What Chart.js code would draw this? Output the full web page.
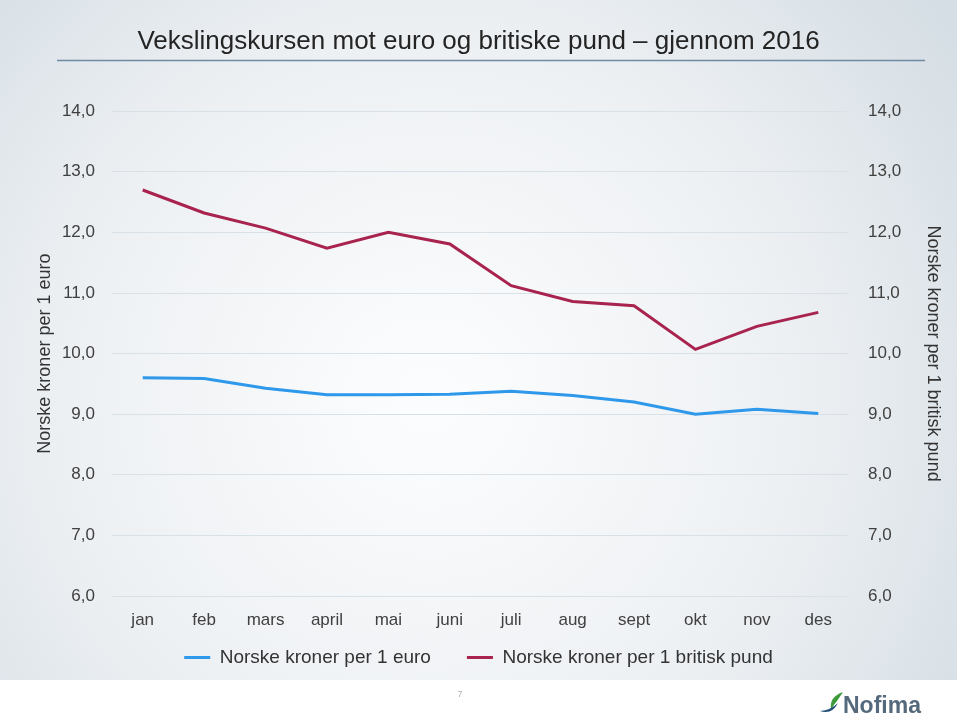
<!DOCTYPE html>
<html>
<head>
<meta charset="utf-8">
<script src="https://cdn.jsdelivr.net/npm/chart.js@4"></script>
<style>
  html, body { margin: 0; padding: 0; background: #ffffff; }
  #wrap { width: 957px; height: 714px; }
</style>
</head>
<body>
<div id="wrap"><canvas id="kursChart" width="957" height="714"></canvas></div>
<script>
const months = ["jan", "feb", "mars", "april", "mai", "juni", "juli", "aug", "sept", "okt", "nov", "des"];
const euroRates = [9.60, 9.59, 9.43, 9.32, 9.32, 9.33, 9.38, 9.31, 9.20, 9.00, 9.08, 9.01];
const poundRates = [12.70, 12.32, 12.07, 11.74, 12.00, 11.81, 11.12, 10.86, 10.79, 10.07, 10.45, 10.68];
const axisMin = 6;
const axisMax = 14;

const FONT = "'Liberation Sans', Arial, sans-serif";
const fmt = (v) => v.toFixed(1).replace(".", ",");

// slide background, title rule, page number and logo
const slidePlugin = {
  id: "slide",
  afterLayout(chart) {
    // pull the legend up a bit so its items can be spread wider
    const lg = chart.legend;
    lg.top -= 20;
    lg.bottom -= 20;
  },
  beforeDraw(chart) {
    const ctx = chart.ctx;
    ctx.save();
    ctx.fillStyle = "#ffffff";
    ctx.fillRect(0, 0, 957, 714);
    const g = ctx.createRadialGradient(430, 400, 30, 430, 400, 640);
    g.addColorStop(0, "#fbfcfd");
    g.addColorStop(0.55, "#edf0f3");
    g.addColorStop(1, "#d5dee4");
    ctx.fillStyle = g;
    ctx.fillRect(0, 0, 957, 680);
    ctx.restore();
  },
  afterDraw(chart) {
    const ctx = chart.ctx;
    ctx.save();
    ctx.strokeStyle = "#6f8aa3";
    ctx.lineWidth = 1.5;
    ctx.beginPath();
    ctx.moveTo(57, 60.5);
    ctx.lineTo(925, 60.5);
    ctx.stroke();

    ctx.fillStyle = "#b0b0b0";
    ctx.font = "9px " + FONT;
    ctx.textAlign = "center";
    ctx.fillText("7", 460, 695);

    // leaf mark
    ctx.fillStyle = "#3d9a3a";
    ctx.beginPath();
    ctx.moveTo(843, 692);
    ctx.quadraticCurveTo(829, 697, 831, 709);
    ctx.quadraticCurveTo(838, 700, 843, 692);
    ctx.fill();
    ctx.fillStyle = "#1f4e79";
    ctx.beginPath();
    ctx.moveTo(820, 711);
    ctx.quadraticCurveTo(832, 715, 838, 703);
    ctx.quadraticCurveTo(831, 710, 820, 711);
    ctx.fill();

    ctx.fillStyle = "#55697c";
    ctx.font = "bold 23px " + FONT;
    ctx.textAlign = "left";
    ctx.textBaseline = "alphabetic";
    ctx.fillText("Nofima", 843, 713);
    ctx.restore();
  }
};

const ctx = document.getElementById("kursChart").getContext("2d");
new Chart(ctx, {
  type: "line",
  data: {
    labels: months,
    datasets: [
      {
        label: "Norske kroner per 1 euro",
        data: euroRates,
        borderColor: "#2e98ea",
        backgroundColor: "#2e98ea",
        borderWidth: 3,
        pointRadius: 0,
        tension: 0,
        fill: false,
        yAxisID: "y",
      },
      {
        label: "Norske kroner per 1 britisk pund",
        data: poundRates,
        borderColor: "#a8234d",
        backgroundColor: "#a8234d",
        borderWidth: 3,
        pointRadius: 0,
        tension: 0,
        fill: false,
        yAxisID: "y1",
      },
    ],
  },
  options: {
    responsive: false,
    animation: false,
    layout: { padding: { left: 0, right: 0, top: 0, bottom: 17 } },
    plugins: {
      title: {
        display: true,
        text: "Vekslingskursen mot euro og britiske pund \u2013 gjennom 2016",
        color: "#242424",
        font: { family: FONT, size: 26, weight: "normal", lineHeight: 1.2 },
        padding: { top: 26, bottom: 54 },
      },
      legend: {
        position: "bottom",
        labels: {
          color: "#333333",
          font: { family: FONT, size: 19 },
          boxWidth: 26,
          boxHeight: 3,
          padding: 36,
          generateLabels(chart) {
            return Chart.defaults.plugins.legend.labels.generateLabels(chart).map((item) => ({
              ...item,
              lineWidth: 0,
              strokeStyle: "rgba(0,0,0,0)",
            }));
          },
        },
      },
      tooltip: { enabled: false },
    },
    scales: {
      x: {
        offset: true,
        grid: { display: false },
        border: { display: false },
        ticks: { color: "#404040", font: { family: FONT, size: 17 }, padding: 6, maxRotation: 0 },
        afterFit(scale) { scale.height = 36; },
      },
      y: {
        position: "left",
        min: axisMin,
        max: axisMax,
        grid: { color: "#d8e0e8", lineWidth: 1, drawTicks: false },
        border: { display: false },
        ticks: { stepSize: 1, color: "#404040", font: { family: FONT, size: 17 }, padding: 17, callback: fmt },
        title: {
          display: true,
          text: "Norske kroner per 1 euro",
          color: "#333333",
          font: { family: FONT, size: 18 },
          padding: { top: 34, bottom: 0 },
        },
        afterFit(scale) { scale.width = 112; },
      },
      y1: {
        position: "right",
        min: axisMin,
        max: axisMax,
        grid: { display: false, drawTicks: false },
        border: { display: false },
        ticks: { stepSize: 1, color: "#404040", font: { family: FONT, size: 17 }, padding: 19, callback: fmt },
        title: {
          display: true,
          text: "Norske kroner per 1 britisk pund",
          color: "#333333",
          font: { family: FONT, size: 18 },
          padding: { top: 13, bottom: 0 },
        },
        afterFit(scale) { scale.width = 108; },
      },
    },
  },
  plugins: [slidePlugin],
});
</script>
</body>
</html>
